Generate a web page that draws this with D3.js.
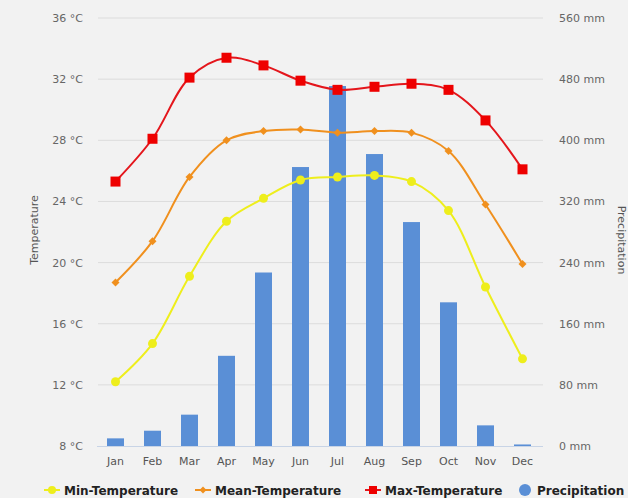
<!DOCTYPE html>
<html>
<head>
<meta charset="utf-8">
<script src="https://cdn.jsdelivr.net/npm/d3@7"></script>
<style>
  html, body { margin: 0; padding: 0; background: #f2f2f2; }
  svg { display: block; font-family: "DejaVu Sans", Verdana, sans-serif; }
</style>
</head>
<body>
<svg id="chart" width="628" height="498"></svg>
<script>
// Monthly climate data
const months = ["Jan","Feb","Mar","Apr","May","Jun","Jul","Aug","Sep","Oct","Nov","Dec"];
const minTemp  = [12.2, 14.7, 19.1, 22.7, 24.2, 25.4, 25.6, 25.7, 25.3, 23.4, 18.4, 13.7];
const meanTemp = [18.7, 21.4, 25.6, 28.0, 28.6, 28.7, 28.5, 28.6, 28.5, 27.3, 23.8, 19.9];
const maxTemp  = [25.3, 28.1, 32.1, 33.4, 32.9, 31.9, 31.3, 31.5, 31.7, 31.3, 29.3, 26.1];
const precip   = [10, 20, 41, 118, 227, 365, 471, 382, 293, 188, 27, 2];
const tempTicks   = [8, 12, 16, 20, 24, 28, 32, 36];
const precipTicks = [0, 80, 160, 240, 320, 400, 480, 560];

const svg = d3.select("#chart");
const plotLeft = 97, plotRight = 541, plotTop = 18, plotBottom = 446;

const x = d3.scaleBand().domain(months).range([plotLeft, plotRight]);
const yT = d3.scaleLinear().domain([8, 36]).range([plotBottom, plotTop]);
const yP = d3.scaleLinear().domain([0, 560]).range([plotBottom, plotTop]);

// Horizontal grid
svg.append("g").selectAll("line").data(tempTicks.slice(1)).join("line")
  .attr("x1", plotLeft + 1).attr("x2", plotRight + 2)
  .attr("y1", d => yT(d)).attr("y2", d => yT(d))
  .attr("stroke", "#dcdcdc").attr("stroke-width", 1);

// Left axis labels
svg.append("g").selectAll("text").data(tempTicks).join("text")
  .attr("x", 83).attr("y", d => yT(d) + 4)
  .attr("text-anchor", "end")
  .attr("font-size", 11).attr("fill", "#666")
  .text(d => d + " °C");

// Right axis labels
svg.append("g").selectAll("text").data(precipTicks).join("text")
  .attr("x", 559).attr("y", d => yP(d) + 4)
  .attr("text-anchor", "start")
  .attr("font-size", 11).attr("fill", "#666")
  .text(d => d + " mm");

// Axis titles
svg.append("text")
  .attr("transform", `translate(38,230) rotate(-90)`)
  .attr("text-anchor", "middle").attr("font-size", 11).attr("fill", "#555")
  .text("Temperature");
svg.append("text")
  .attr("transform", `translate(618,240) rotate(90)`)
  .attr("text-anchor", "middle").attr("font-size", 11).attr("fill", "#555")
  .text("Precipitation");

// Bars
const bw = 17;
svg.append("g").selectAll("rect").data(precip).join("rect")
  .attr("x", (d, i) => x(months[i]) + x.bandwidth() / 2 - bw / 2)
  .attr("y", d => yP(d))
  .attr("width", bw)
  .attr("height", d => plotBottom - yP(d))
  .attr("fill", "#5a8fd6");

// X baseline
svg.append("line")
  .attr("x1", plotLeft).attr("x2", plotRight + 2)
  .attr("y1", plotBottom + 0.5).attr("y2", plotBottom + 0.5)
  .attr("stroke", "#c8d4e6").attr("stroke-width", 1);

// Month labels
svg.append("g").selectAll("text").data(months).join("text")
  .attr("x", d => x(d) + x.bandwidth() / 2).attr("y", 465)
  .attr("text-anchor", "middle").attr("font-size", 11).attr("fill", "#555")
  .text(d => d);

const cx = i => x(months[i]) + x.bandwidth() / 2;
const line = d3.line().x((d, i) => cx(i)).y(d => yT(d)).curve(d3.curveCatmullRom.alpha(0.5));

const series = [
  { vals: minTemp,  color: "#eeee1c", shape: "circle" },
  { vals: meanTemp, color: "#f0901e", shape: "diamond" },
  { vals: maxTemp,  color: "#e4161c", shape: "square" }
];

function marker(g, shape, color, px, py) {
  if (shape === "circle") {
    g.append("circle").attr("cx", px).attr("cy", py).attr("r", 4.5).attr("fill", color);
  } else if (shape === "diamond") {
    g.append("path").attr("d", `M${px},${py-4}L${px+4},${py}L${px},${py+4}L${px-4},${py}Z`).attr("fill", color);
  } else {
    g.append("rect").attr("x", px - 5).attr("y", py - 5).attr("width", 10).attr("height", 10).attr("fill", "#ee0000");
  }
}

series.forEach(s => {
  svg.append("path").datum(s.vals).attr("d", line)
    .attr("fill", "none").attr("stroke", s.color).attr("stroke-width", 2);
  const g = svg.append("g");
  s.vals.forEach((v, i) => marker(g, s.shape, s.color, cx(i), yT(v)));
});

// Legend
const legend = [
  { label: "Min-Temperature",  shape: "circle",  color: "#eeee1c", x: 44 },
  { label: "Mean-Temperature", shape: "diamond", color: "#f0901e", x: 195 },
  { label: "Max-Temperature",  shape: "square",  color: "#e4161c", x: 365 },
  { label: "Precipitation",    shape: "dot",     color: "#5a8fd6", x: 517 }
];
const ly = 490;
legend.forEach(l => {
  const g = svg.append("g");
  if (l.shape === "dot") {
    g.append("circle").attr("cx", l.x + 8).attr("cy", ly).attr("r", 6).attr("fill", l.color);
  } else {
    g.append("line").attr("x1", l.x).attr("x2", l.x + 16).attr("y1", ly).attr("y2", ly)
      .attr("stroke", l.color).attr("stroke-width", 2);
    if (l.shape === "circle") g.append("circle").attr("cx", l.x + 8).attr("cy", ly).attr("r", 4).attr("fill", l.color);
    else if (l.shape === "diamond") g.append("path").attr("d", `M${l.x+8},${ly-3.5}L${l.x+11.5},${ly}L${l.x+8},${ly+3.5}L${l.x+4.5},${ly}Z`).attr("fill", l.color);
    else g.append("rect").attr("x", l.x + 4).attr("y", ly - 4).attr("width", 8).attr("height", 8).attr("fill", "#ee0000");
  }
  g.append("text").attr("x", l.x + 20).attr("y", ly + 4.5)
    .attr("font-size", 12).attr("font-weight", "bold").attr("fill", "#222")
    .text(l.label);
});
</script>
</body>
</html>
